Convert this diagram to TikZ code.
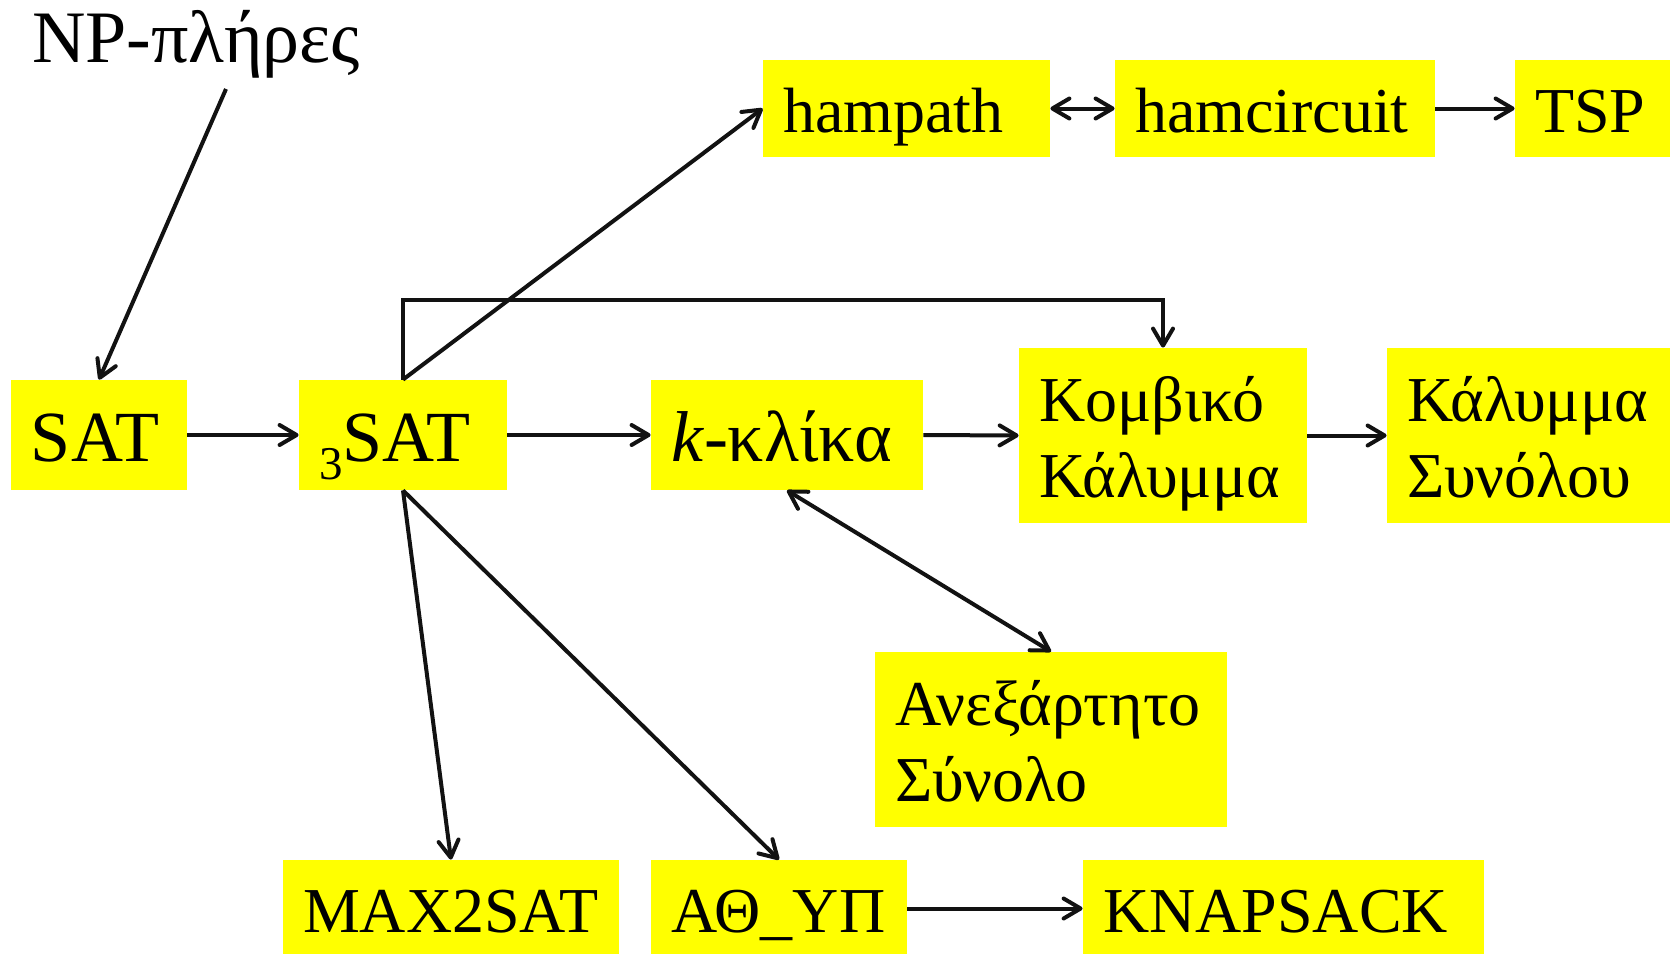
\documentclass[tikz,border=0pt]{standalone}
\usepackage{fontspec}
\setmainfont{Liberation Serif}
\usetikzlibrary{arrows.meta}
\hyphenpenalty=10000
\exhyphenpenalty=10000

\definecolor{boxyellow}{RGB}{255,255,0}

\tikzset{
  box/.style={fill=boxyellow, inner xsep=10pt, inner ysep=0pt, align=left,
    font=\fontsize{32}{38}\selectfont, text height=25pt, text depth=1.3pt},
  bigbox/.style={box, font=\fontsize{36}{43}\selectfont, text height=28pt, text depth=1.4pt},
  twoline/.style={text depth=39.3pt},
  tip/.tip={Straight Barb[length=8.5pt,width=10pt,line cap=round,line join=round]},
  arr/.style={line width=2pt, color=black!93, -tip},
  darr/.style={line width=2pt, color=black!93, tip-tip}
}

\begin{document}
\begin{tikzpicture}[x=0.5pt, y=-0.5pt]
\useasboundingbox (0,0) rectangle (1670,953);

% heading
\node[anchor=base west, inner sep=0pt, font=\fontsize{37}{44}\selectfont] (np) at (32,62) {NP-πλήρες};
\coordinate (npfoot) at (226,89);

% problem boxes
\node[bigbox, text width=68pt, minimum height=55pt] (sat) at (99,435) {SAT};
\node[bigbox, text width=84pt, minimum height=55pt] (sat3) at (403,435)
  {\raisebox{-9pt}{\fontsize{23.5}{28}\selectfont 3}SAT};
\node[bigbox, text width=116pt, minimum height=55pt] (klika) at (787,435) {\textit{k}-κλίκα};
\node[box, twoline, text width=124pt, minimum height=87.5pt] (komb) at (1163,435.5) {Κομβικό\\Κάλυμμα};
\node[box, twoline, text width=121.5pt, minimum height=87.5pt] (kal) at (1528.5,435.5) {Κάλυμμα\\Συνόλου};

\node[box, text width=123.5pt, minimum height=48.5pt] (ham) at (906.5,108.5) {hampath};
\node[box, text width=140pt, minimum height=48.5pt] (hamc) at (1275,108.5) {hamcircuit};
\node[box, text width=57.5pt, minimum height=48.5pt] (tsp) at (1592.5,108.5) {TSP};

\node[box, twoline, text width=156pt, minimum height=87.5pt] (anex) at (1051,739.5) {Ανεξάρτητο\\Σύνολο};

\node[box, text width=148pt, minimum height=48.5pt] (max) at (451,908.5) {MAX2SAT};
\node[box, text width=108pt, minimum height=48.5pt] (athyp) at (779,908.5) {ΑΘ\_ΥΠ};
\node[box, text width=180.5pt, minimum height=48.5pt] (knap) at (1283.5,908.5) {KNAPSACK};

% reductions
\draw[arr] (npfoot) -- (sat.north);
\draw[arr] (sat.east) -- (sat3.west);
\draw[arr] (sat3.north) -- (ham.west);
\draw[arr] (sat3.north) -- ++(0,-80) -| (komb.north);
\draw[arr] (sat3.east) -- (klika.west);
\draw[arr] (klika.east) -- (komb.west);
\draw[arr] (komb.east) -- (kal.west);
\draw[darr] (ham.east) -- (hamc.west);
\draw[arr] (hamc.east) -- (tsp.west);
\draw[darr] (klika.south) -- (anex.north);
\draw[arr] (sat3.south) -- (max.north);
\draw[arr] (sat3.south) -- (athyp.north);
\draw[arr] (athyp.east) -- (knap.west);
\end{tikzpicture}
\end{document}
